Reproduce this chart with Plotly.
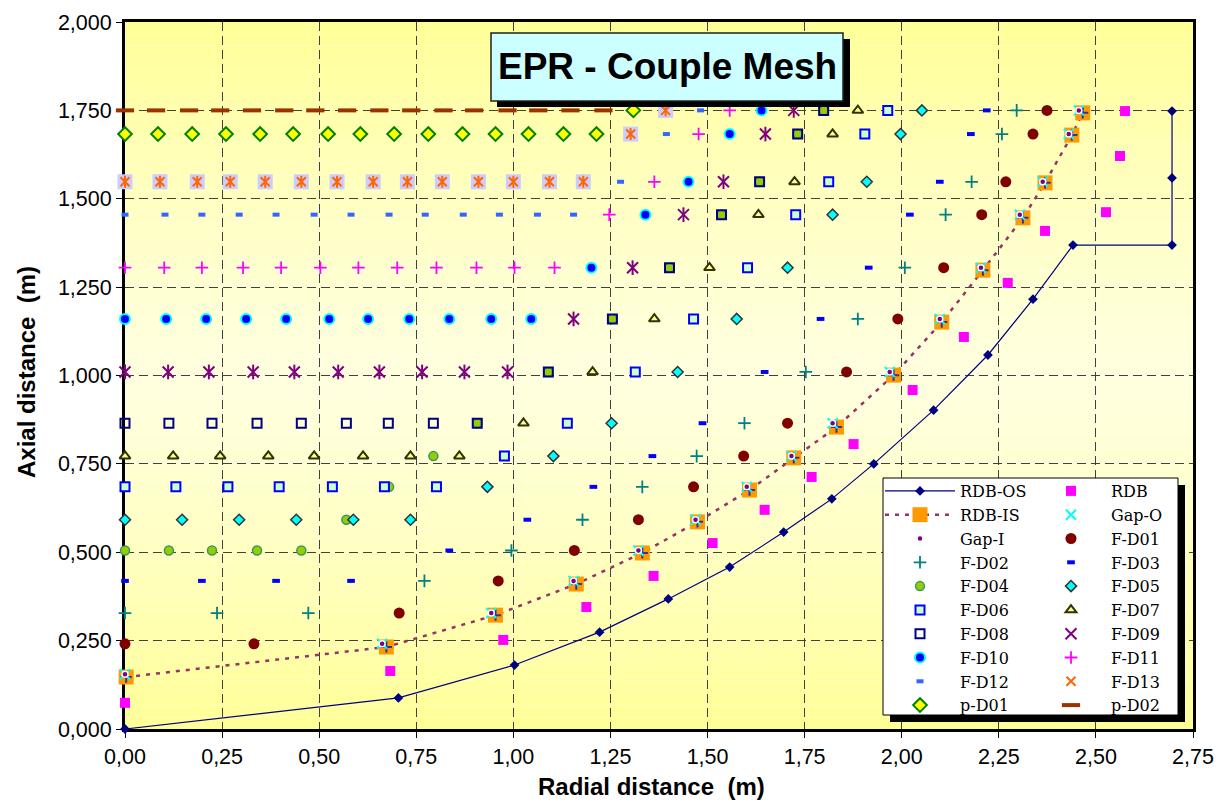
import plotly.graph_objects as go

# ---------------- data (metres) ----------------
x_tick_vals = [0.0, 0.25, 0.5, 0.75, 1.0, 1.25, 1.5, 1.75, 2.0, 2.25, 2.5, 2.75]
x_tick_text = ["0,00", "0,25", "0,50", "0,75", "1,00", "1,25", "1,50", "1,75", "2,00", "2,25", "2,50", "2,75"]
y_tick_vals = [0.0, 0.25, 0.5, 0.75, 1.0, 1.25, 1.5, 1.75, 2.0]
y_tick_text = ["0,000", "0,250", "0,500", "0,750", "1,000", "1,250", "1,500", "1,750", "2,000"]

rdb_os_x = [0.0, 0.704, 1.003, 1.222, 1.399, 1.557, 1.696, 1.820, 1.928, 2.082, 2.222, 2.338, 2.441, 2.696, 2.696, 2.696]
rdb_os_y = [0.0, 0.088, 0.181, 0.274, 0.368, 0.458, 0.557, 0.651, 0.750, 0.902, 1.058, 1.216, 1.369, 1.369, 1.559, 1.748]

rdb_x = [0.0, 0.683, 0.974, 1.188, 1.361, 1.513, 1.647, 1.768, 1.876, 2.028, 2.160, 2.273, 2.369, 2.526, 2.562, 2.575]
rdb_y = [0.074, 0.164, 0.252, 0.345, 0.433, 0.526, 0.620, 0.713, 0.806, 0.959, 1.109, 1.262, 1.409, 1.462, 1.621, 1.748]

rdb_is_x = [0.003, 0.673, 0.954, 1.162, 1.332, 1.474, 1.608, 1.722, 1.832, 1.979, 2.103, 2.209, 2.312, 2.369, 2.438, 2.466]
rdb_is_y = [0.147, 0.232, 0.322, 0.410, 0.498, 0.586, 0.676, 0.767, 0.854, 1.001, 1.151, 1.298, 1.446, 1.545, 1.680, 1.743]

gap_x = [0.0, 0.662, 0.943, 1.155, 1.322, 1.469, 1.601, 1.716, 1.822, 1.969, 2.098, 2.204, 2.304, 2.363, 2.430, 2.456]
gap_y = [0.155, 0.241, 0.328, 0.419, 0.505, 0.592, 0.685, 0.772, 0.865, 1.010, 1.160, 1.305, 1.455, 1.548, 1.683, 1.750]

fd01_x = [0.0, 0.332, 0.706, 0.961, 1.157, 1.322, 1.464, 1.593, 1.706, 1.858, 1.990, 2.108, 2.206, 2.268, 2.338, 2.374]
fd01_y = [0.241, 0.241, 0.328, 0.419, 0.505, 0.592, 0.685, 0.772, 0.865, 1.010, 1.160, 1.305, 1.455, 1.548, 1.683, 1.750]

fd02_x = [0.0, 0.237, 0.472, 0.771, 0.995, 1.178, 1.332, 1.472, 1.595, 1.753, 1.887, 2.008, 2.113, 2.180, 2.258, 2.296]
fd02_y = [0.328, 0.328, 0.328, 0.419, 0.505, 0.592, 0.685, 0.772, 0.865, 1.010, 1.160, 1.305, 1.455, 1.548, 1.683, 1.750]

fd03_x = [0.0, 0.198, 0.389, 0.582, 0.835, 1.036, 1.206, 1.358, 1.487, 1.647, 1.791, 1.915, 2.021, 2.098, 2.178, 2.219]
fd03_y = [0.419, 0.419, 0.419, 0.419, 0.505, 0.592, 0.685, 0.772, 0.865, 1.010, 1.160, 1.305, 1.455, 1.548, 1.683, 1.750]

fd04_x = [0.0, 0.113, 0.224, 0.340, 0.454, 0.570, 0.680, 0.794, 0.907, 1.090, 1.255, 1.402, 1.536, 1.634, 1.732, 1.799]
fd04_y = [0.505, 0.505, 0.505, 0.505, 0.505, 0.592, 0.685, 0.772, 0.865, 1.010, 1.160, 1.305, 1.455, 1.548, 1.683, 1.750]

fd05_x = [0.0, 0.147, 0.294, 0.441, 0.588, 0.735, 0.933, 1.103, 1.253, 1.423, 1.575, 1.706, 1.822, 1.910, 1.997, 2.052]
fd05_y = [0.592, 0.592, 0.592, 0.592, 0.592, 0.592, 0.685, 0.772, 0.865, 1.010, 1.160, 1.305, 1.455, 1.548, 1.683, 1.750]

fd06_x = [0.0, 0.131, 0.265, 0.397, 0.534, 0.668, 0.802, 0.977, 1.139, 1.314, 1.464, 1.603, 1.727, 1.812, 1.905, 1.964]
fd06_y = [0.685, 0.685, 0.685, 0.685, 0.685, 0.685, 0.685, 0.772, 0.865, 1.010, 1.160, 1.305, 1.455, 1.548, 1.683, 1.750]

fd07_x = [0.0, 0.124, 0.245, 0.369, 0.487, 0.613, 0.735, 0.861, 1.026, 1.204, 1.363, 1.505, 1.631, 1.724, 1.822, 1.887]
fd07_y = [0.772, 0.772, 0.772, 0.772, 0.772, 0.772, 0.772, 0.772, 0.865, 1.010, 1.160, 1.305, 1.455, 1.548, 1.683, 1.750]

fd08_x = [0.0, 0.113, 0.224, 0.340, 0.454, 0.570, 0.678, 0.794, 0.907, 1.090, 1.255, 1.402, 1.536, 1.634, 1.732, 1.799]
fd08_y = [0.865, 0.865, 0.865, 0.865, 0.865, 0.865, 0.865, 0.865, 0.865, 1.010, 1.160, 1.305, 1.455, 1.548, 1.683, 1.750]

fd09_x = [0.0, 0.111, 0.216, 0.330, 0.436, 0.549, 0.655, 0.765, 0.874, 0.985, 1.155, 1.307, 1.438, 1.541, 1.649, 1.722]
fd09_y = [1.010, 1.010, 1.010, 1.010, 1.010, 1.010, 1.010, 1.010, 1.010, 1.010, 1.160, 1.305, 1.455, 1.548, 1.683, 1.750]

fd10_x = [0.0, 0.106, 0.209, 0.312, 0.415, 0.526, 0.626, 0.732, 0.835, 0.943, 1.046, 1.201, 1.340, 1.451, 1.557, 1.639]
fd10_y = [1.160, 1.160, 1.160, 1.160, 1.160, 1.160, 1.160, 1.160, 1.160, 1.160, 1.160, 1.305, 1.455, 1.548, 1.683, 1.750]

fd11_x = [0.0, 0.101, 0.198, 0.304, 0.402, 0.503, 0.601, 0.701, 0.802, 0.905, 1.003, 1.106, 1.247, 1.363, 1.477, 1.557]
fd11_y = [1.305, 1.305, 1.305, 1.305, 1.305, 1.305, 1.305, 1.305, 1.305, 1.305, 1.305, 1.305, 1.455, 1.548, 1.683, 1.750]

fd12_x = [0.0, 0.103, 0.198, 0.294, 0.389, 0.487, 0.582, 0.680, 0.773, 0.871, 0.964, 1.062, 1.155, 1.276, 1.394, 1.482]
fd12_y = [1.455, 1.455, 1.455, 1.455, 1.455, 1.455, 1.455, 1.455, 1.455, 1.455, 1.455, 1.455, 1.455, 1.548, 1.683, 1.750]

fd13_x = [0.0, 0.090, 0.186, 0.271, 0.361, 0.454, 0.546, 0.639, 0.727, 0.817, 0.910, 1.000, 1.093, 1.180, 1.302, 1.392]
fd13_y = [1.548, 1.548, 1.548, 1.548, 1.548, 1.548, 1.548, 1.548, 1.548, 1.548, 1.548, 1.548, 1.548, 1.548, 1.683, 1.750]

pd01_x = [0.0, 0.085, 0.173, 0.260, 0.348, 0.433, 0.523, 0.606, 0.693, 0.781, 0.869, 0.954, 1.039, 1.129, 1.214, 1.309]
pd01_y = [1.683, 1.683, 1.683, 1.683, 1.683, 1.683, 1.683, 1.683, 1.683, 1.683, 1.683, 1.683, 1.683, 1.683, 1.683, 1.750]

pd02_x = [0.0, 0.080, 0.165, 0.245, 0.327, 0.410, 0.490, 0.572, 0.655, 0.737, 0.820, 0.899, 0.985, 1.064, 1.147, 1.232]
pd02_y = [1.750, 1.750, 1.750, 1.750, 1.750, 1.750, 1.750, 1.750, 1.750, 1.750, 1.750, 1.750, 1.750, 1.750, 1.750, 1.750]

chart_title = "EPR - Couple Mesh"
x_title = "Radial distance\u00a0 (m)"
y_title = "Axial distance\u00a0 (m)"

# ---------------- layout geometry (pixels) ----------------
W, H = 1226, 801
L, R, T, B = 125, 33, 22, 72
PW, PH = W - L - R, H - T - B


def px(xp):
    return (xp - L) / PW


def py(yp):
    return (H - B - yp) / PH


fig = go.Figure()


def add(name, xs, ys, legend=None, show=True, **kw):
    fig.add_trace(go.Scatter(x=xs, y=ys, name=name, showlegend=show,
                             legend=legend, cliponaxis=False, hoverinfo="skip", **kw))


def open_marker(symbol, size, color, width):
    return dict(symbol=symbol, size=size, color=color, line=dict(color=color, width=width))


L1, L2 = "legend", "legend2"

add("RDB-OS", rdb_os_x, rdb_os_y, L1, mode="lines+markers",
    line=dict(color="#000080", width=1.2),
    marker=dict(symbol="diamond", size=7.5, color="#000080"))
add("RDB", rdb_x, rdb_y, L2, mode="markers",
    marker=dict(symbol="square", size=10, color="#FF00FF"))
add("RDB-IS", rdb_is_x, rdb_is_y, L1, mode="lines+markers",
    line=dict(color="#993366", width=2.5, dash="4px,6px"),
    marker=dict(symbol="square", size=15, color="#FF9900"))
add("RDB-IS+", rdb_is_x, rdb_is_y, show=False, mode="markers",
    marker=open_marker("cross-thin-open", 8, "#333399", 2))
add("Gap-O", gap_x, gap_y, L2, mode="markers",
    marker=open_marker("x-thin-open", 10, "#00FFFF", 2))
add("Gap-I", gap_x, gap_y, L1, mode="markers",
    marker=dict(symbol="circle", size=6, color="#800080", line=dict(color="#E8FFFF", width=1.5)))
add("F-D01", fd01_x, fd01_y, L2, mode="markers",
    marker=dict(symbol="circle", size=11, color="#800000"))
add("F-D02", fd02_x, fd02_y, L1, mode="markers",
    marker=open_marker("cross-thin-open", 9, "#008080", 1.8))
add("F-D03", fd03_x, fd03_y, L2, mode="markers",
    marker=open_marker("line-ew-open", 5.5, "#0000FF", 4))
add("F-D04", fd04_x, fd04_y, L1, mode="markers",
    marker=dict(symbol="circle", size=9, color="#99CC00", line=dict(color="#339966", width=1.5)))
add("F-D05", fd05_x, fd05_y, L2, mode="markers",
    marker=dict(symbol="diamond", size=8.5, color="#00FFFF", line=dict(color="#333333", width=1.5)))
add("F-D06", fd06_x, fd06_y, L1, mode="markers",
    marker=dict(symbol="square", size=9, color="#CCFFCC", line=dict(color="#0000FF", width=2)))
add("F-D07", fd07_x, fd07_y, L2, mode="markers",
    marker=dict(symbol="triangle-up", size=9.5, color="#FFFF99", line=dict(color="#333300", width=2)))
add("F-D08", fd08_x, fd08_y, L1, mode="markers",
    marker=open_marker("square-open", 9, "#000080", 2))
add("F-D09", fd09_x, fd09_y, L2, mode="markers",
    marker=open_marker("x-thin-open", 11, "#800080", 2))
add("F-D09|", fd09_x, fd09_y, show=False, mode="markers",
    marker=open_marker("line-ns-open", 10.5, "#800080", 2))
add("F-D10", fd10_x, fd10_y, L1, mode="markers",
    marker=dict(symbol="circle", size=10, color="#0000FF", line=dict(color="#00FFFF", width=2)))
add("F-D11", fd11_x, fd11_y, L2, mode="markers",
    marker=open_marker("cross-thin-open", 9, "#FF00FF", 1.8))
add("F-D12", fd12_x, fd12_y, L1, mode="markers",
    marker=open_marker("line-ew-open", 5, "#3366FF", 4))
add("F-D13bg", fd13_x, fd13_y, show=False, mode="markers",
    marker=dict(symbol="square", size=15, color="#CCCCFF"))
add("F-D13", fd13_x, fd13_y, L2, mode="markers",
    marker=open_marker("x-thin-open", 9, "#FF6600", 2))
add("F-D13|", fd13_x, fd13_y, show=False, mode="markers",
    marker=open_marker("line-ns-open", 8.5, "#FF6600", 2))
add("p-D01", pd01_x, pd01_y, L1, mode="markers",
    marker=dict(symbol="diamond", size=10.5, color="#FFFF00", line=dict(color="#008000", width=2)))
add("p-D02", pd02_x, pd02_y, L2, mode="markers",
    marker=open_marker("line-ew-open", 13, "#993300", 4))

# ---------------- decorations ----------------
shapes = []
# vertical gradient background of plot area
n = 60
for i in range(n):
    t0, t1 = i / n, (i + 1) / n
    tm = (t0 + t1) / 2
    d = abs(tm - 0.5) * 2  # 0 centre, 1 edges
    b = int(round(222 - (222 - 150) * d ** 1.3))
    shapes.append(dict(type="rect", xref="paper", yref="paper", x0=0, x1=1, y0=t0, y1=t1,
                       fillcolor=f"rgb(255,255,{b})", line=dict(width=0), layer="below"))

# title box with shadow
shapes.append(dict(type="rect", xref="paper", yref="paper", x0=px(497), x1=px(850), y0=py(107), y1=py(39),
                   fillcolor="black", line=dict(width=0), layer="above"))
shapes.append(dict(type="rect", xref="paper", yref="paper", x0=px(491), x1=px(843), y0=py(101), y1=py(33),
                   fillcolor="#CCFFFF", line=dict(color="#202020", width=1.5), layer="above"))
# legend box with shadow
shapes.append(dict(type="rect", xref="paper", yref="paper", x0=px(890), x1=px(1185), y0=py(722), y1=py(485),
                   fillcolor="black", line=dict(width=0), layer="above"))
shapes.append(dict(type="rect", xref="paper", yref="paper", x0=px(883), x1=px(1178), y0=py(715), y1=py(478),
                   fillcolor="white", line=dict(color="black", width=1), layer="above"))

annotations = [
    dict(text=chart_title, xref="paper", yref="paper", x=px(667), y=py(67), showarrow=False,
         xanchor="center", yanchor="middle",
         font=dict(family="Liberation Sans", size=37, color="black", weight="bold")),
    dict(text=x_title, xref="paper", yref="paper", x=px(651), y=py(786), showarrow=False,
         xanchor="center", yanchor="middle",
         font=dict(family="Liberation Sans", size=24, color="black", weight="bold")),
    dict(text=y_title, xref="paper", yref="paper", x=px(26), y=py(372), showarrow=False,
         xanchor="center", yanchor="middle", textangle=-90,
         font=dict(family="Liberation Sans", size=24, color="black", weight="bold")),
]

axis_common = dict(
    showgrid=True, gridcolor="#404040", gridwidth=1, griddash="9px,5px",
    showline=True, linecolor="black", linewidth=3, mirror=True,
    ticks="outside", ticklen=6, tickwidth=1, tickcolor="black",
    tickfont=dict(family="Liberation Sans", size=21.5, color="black"),
    zeroline=False, layer="below traces", fixedrange=True,
)

legend_common = dict(
    bgcolor="rgba(0,0,0,0)", borderwidth=0, itemwidth=70,
    font=dict(family="DejaVu Serif", size=16, color="black"),
    xanchor="left", yanchor="top", y=py(474), tracegroupgap=0,
)

fig.update_layout(
    width=W, height=H,
    margin=dict(l=L, r=R, t=T, b=B, pad=0),
    paper_bgcolor="white", plot_bgcolor="rgba(0,0,0,0)",
    xaxis=dict(range=[0, 2.75], tickvals=x_tick_vals, ticktext=x_tick_text, **axis_common),
    yaxis=dict(range=[0, 2.0], tickvals=y_tick_vals, ticktext=y_tick_text, **axis_common),
    shapes=shapes, annotations=annotations,
    legend=dict(x=px(880), **legend_common),
    legend2=dict(x=px(1031), **legend_common),
    showlegend=True,
)

fig.write_html("out.html", config={"displayModeBar": False})
